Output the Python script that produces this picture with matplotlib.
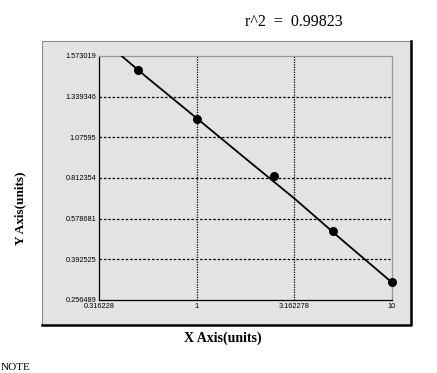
import numpy as np
import matplotlib
matplotlib.use('Agg')
import matplotlib.pyplot as plt
from matplotlib.patches import Rectangle
from matplotlib.lines import Line2D
from matplotlib.ticker import FixedLocator, FixedFormatter, NullLocator

# 标准点数据
conc = [0.5, 1.0, 2.5, 5.0, 10.0]
od = [1.490, 1.192, 0.8255, 0.5223, 0.316]

# 拟合曲线
fit_x = [0.413, 0.555, 1.0, 1.768, 3.162, 5.62, 10.0]
fit_y = [1.573, 1.451, 1.200, 0.9415, 0.695, 0.4769, 0.315]

# 坐标轴刻度
y_ticks = [0.256489, 0.392525, 0.578681, 0.812354, 1.07595, 1.339346, 1.573019]
y_labels = ['0.256489', '0.392525', '0.578681', '0.812354', '1.07595', '1.339346', '1.573019']
x_ticks = [0.316228, 1, 3.162278, 10]
x_labels = ['0.316228', '1', '3.162278', '10']
r2_text = 'r^2  =  0.99823'

y_idx = np.arange(len(y_ticks), dtype=float)


def fwd(v):
    return np.interp(v, y_ticks, y_idx)


def inv(v):
    return np.interp(v, y_idx, y_ticks)


fig = plt.figure(figsize=(4.37, 3.73), dpi=100)
fig.patch.set_facecolor('white')

# 外层灰色面板
L, R, B, T = 42 / 437, 411 / 437, 1 - 325 / 373, 1 - 41 / 373
fig.add_artist(Rectangle((L, B), R - L, T - B, transform=fig.transFigure,
                         facecolor='#e3e3e3', edgecolor='none', zorder=0))
fig.add_artist(Line2D([L, L, R], [B, T, T], transform=fig.transFigure,
                      color='#8a8a8a', lw=0.8))
fig.add_artist(Line2D([L, R, R], [B, B, T], transform=fig.transFigure,
                      color='black', lw=1.8))

ax = fig.add_axes([99 / 437, 1 - 300 / 373, 293 / 437, 244 / 373])
ax.set_facecolor('#e3e3e3')
ax.set_xscale('log')
ax.set_yscale('function', functions=(fwd, inv))
ax.set_xlim(0.316228, 10)
ax.set_ylim(y_ticks[0], y_ticks[-1])

ax.xaxis.set_major_locator(FixedLocator(x_ticks))
ax.xaxis.set_major_formatter(FixedFormatter(x_labels))
ax.xaxis.set_minor_locator(NullLocator())
ax.yaxis.set_major_locator(FixedLocator(y_ticks))
ax.yaxis.set_major_formatter(FixedFormatter(y_labels))
ax.yaxis.set_minor_locator(NullLocator())
ax.tick_params(axis='both', length=0, labelsize=5.3, pad=2)
for lab in ax.get_xticklabels() + ax.get_yticklabels():
    lab.set_family('Liberation Sans')

# 网格
for v in y_ticks[1:-1]:
    ax.axhline(v, color='black', lw=0.9, ls=(0, (2, 1.5)), zorder=1)
for v in x_ticks[1:-1]:
    ax.axvline(v, color='black', lw=0.9, ls=(0, (1, 1)), zorder=1)

ax.plot(fit_x, fit_y, color='black', lw=1.3, zorder=3)
ax.plot(conc, od, 'o', color='black', ms=5.5, zorder=4, clip_on=False)

ax.spines['left'].set_color('black')
ax.spines['bottom'].set_color('black')
ax.spines['top'].set_color('#9a9a9a')
ax.spines['right'].set_color('#9a9a9a')
for s in ax.spines.values():
    s.set_linewidth(0.9)

fig.text(294 / 437, 1 - 22 / 373, r2_text, ha='center', va='center',
         family='Liberation Serif', fontsize=11.5)
fig.text(223 / 437, 1 - 338 / 373, 'X Axis(units)', ha='center', va='center',
         family='Liberation Serif', fontweight='bold', fontsize=10)
fig.text(20 / 437, 1 - 208 / 373, 'Y Axis(units)', ha='center', va='center',
         rotation=90, family='Liberation Serif', fontweight='bold', fontsize=9.5)
fig.text(1 / 437, 1 - 367 / 373, 'NOTE', ha='left', va='center',
         family='Liberation Serif', fontsize=8)

fig.savefig('out.png', dpi=100)
